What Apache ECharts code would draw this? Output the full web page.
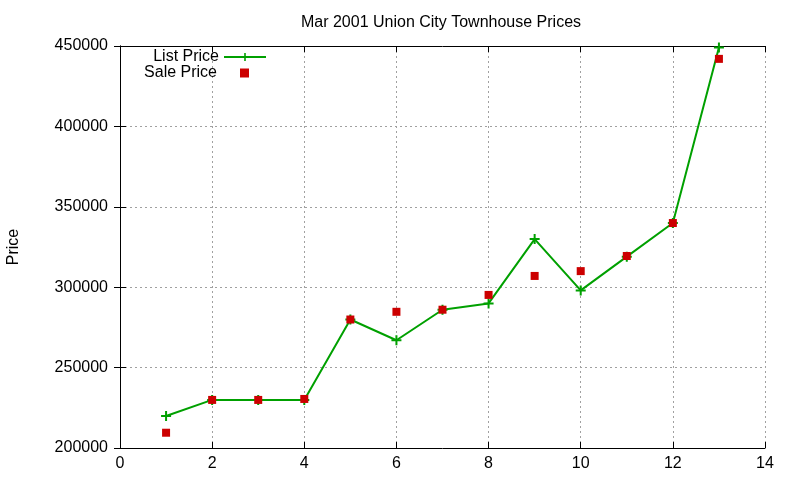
<!DOCTYPE html>
<html>
<head>
<meta charset="utf-8">
<script src="https://cdn.jsdelivr.net/npm/echarts@6/dist/echarts.min.js"></script>
<style>html,body{margin:0;padding:0;background:#fff}#c{width:800px;height:480px}</style>
</head>
<body>
<div id="c"></div>
<script>
var houseIndex = [1, 2, 3, 4, 5, 6, 7, 8, 9, 10, 11, 12, 13];
var listPrice = [219900, 229900, 229900, 229900, 279900, 267000, 286000, 289900, 329900, 298000, 319000, 339900, 449000];
var salePrice = [209500, 229900, 229900, 230500, 279900, 284700, 286000, 295200, 307000, 310000, 319400, 339900, 442000];
var xTicks = [0, 2, 4, 6, 8, 10, 12, 14];
var yTicks = [200000, 250000, 300000, 350000, 400000, 450000];

var FONT = 'Liberation Sans, Arial, sans-serif';
var plusPath = 'path://M4,0H6V4H10V6H6V10H4V6H0V4H4Z';

function pairs(xs, ys) { return xs.map(function (x, i) { return [x, ys[i]]; }); }

var chart = echarts.init(document.getElementById('c'));
var gridLine = { show: true, lineStyle: { color: '#a0a0a0', type: [2, 3], width: 1 } };
var axisBlack = { show: true, lineStyle: { color: '#000', width: 1 } };
var tick = { show: true, inside: true, length: 6, lineStyle: { color: '#000' } };
chart.setOption({
  animation: false,
  backgroundColor: '#fff',
  title: {
    text: 'Mar 2001 Union City Townhouse Prices',
    left: 436, top: 10, textAlign: 'center',
    textStyle: { fontFamily: FONT, fontSize: 16, fontWeight: 'normal', color: '#000' }
  },
  legend: [
    { data: ['List Price'], right: 528, top: 44, align: 'right', itemWidth: 42, itemHeight: 10, itemGap: 0,
      textStyle: { fontFamily: FONT, fontSize: 16, color: '#000' } },
    { data: ['Sale Price'], right: 546, top: 60, align: 'right', itemWidth: 9, itemHeight: 9, itemGap: 0,
      icon: 'rect',
      textStyle: { fontFamily: FONT, fontSize: 16, color: '#000', padding: [0, 18, 0, 0] } }
  ],
  grid: { left: 120, right: 35, top: 46, bottom: 32, containLabel: false, outerBoundsMode: 'none' },
  xAxis: [
    { type: 'value', min: xTicks[0], max: xTicks[xTicks.length - 1], interval: 2,
      axisLine: axisBlack, axisTick: tick,
      axisLabel: { color: '#000', fontFamily: FONT, fontSize: 16, margin: 8 },
      splitLine: gridLine },
    { type: 'value', position: 'top', min: xTicks[0], max: xTicks[xTicks.length - 1], interval: 2,
      axisLine: axisBlack, axisTick: tick,
      axisLabel: { show: false }, splitLine: { show: false } }
  ],
  yAxis: [
    { type: 'value', min: yTicks[0], max: yTicks[yTicks.length - 1], interval: 50000,
      name: 'Price', nameLocation: 'middle', nameRotate: 90, nameGap: 98,
      nameTextStyle: { fontFamily: FONT, fontSize: 16, color: '#000' },
      axisLine: axisBlack, axisTick: tick,
      axisLabel: { color: '#000', fontFamily: FONT, fontSize: 16, margin: 12,
        formatter: function (v) { return String(v); } },
      splitLine: gridLine },
    { type: 'value', position: 'right', min: yTicks[0], max: yTicks[yTicks.length - 1], interval: 50000,
      axisLine: axisBlack, axisTick: tick,
      axisLabel: { show: false }, splitLine: { show: false } }
  ],
  series: [
    { name: 'List Price', type: 'line', data: pairs(houseIndex, listPrice),
      symbol: plusPath, symbolSize: 10, showAllSymbol: true,
      lineStyle: { color: '#00a000', width: 2 }, itemStyle: { color: '#00a000' } },
    { name: 'Sale Price', type: 'scatter', data: pairs(houseIndex, salePrice),
      symbol: 'rect', symbolSize: 8, itemStyle: { color: '#cc0000', opacity: 1 }, z: 3 }
  ]
});
</script>
</body>
</html>
